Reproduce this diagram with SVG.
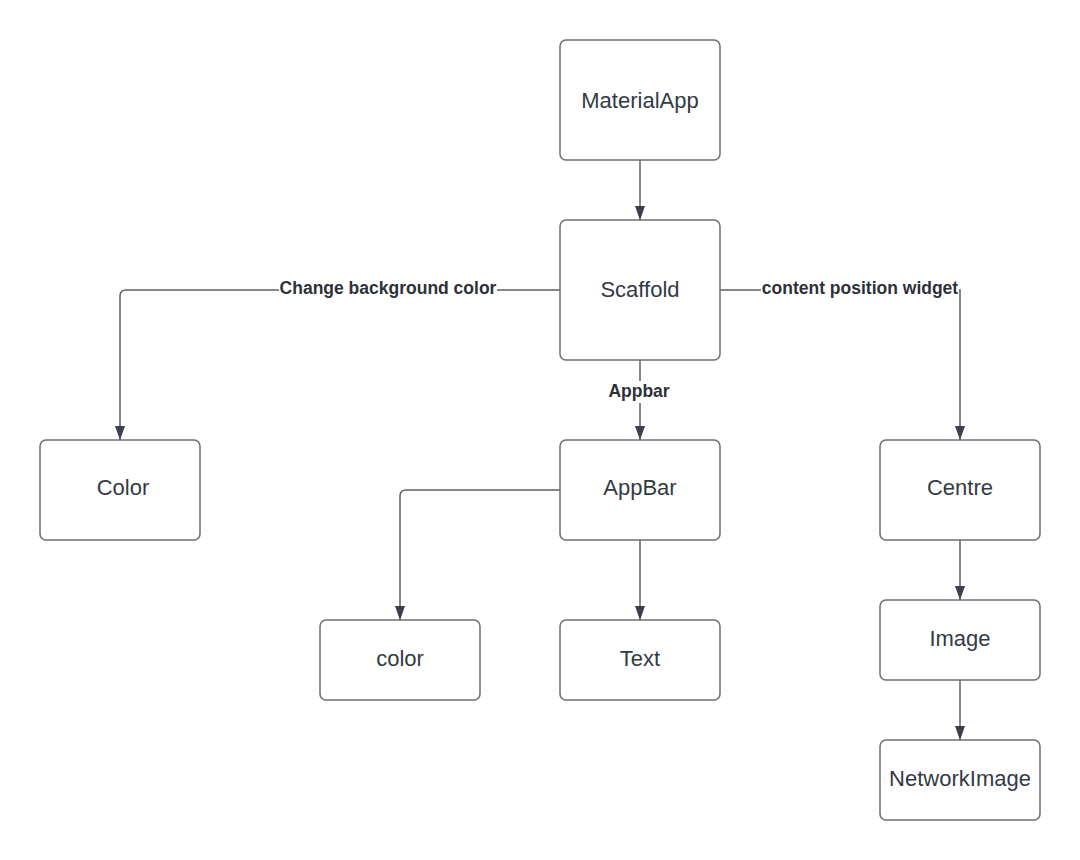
<svg xmlns="http://www.w3.org/2000/svg" width="1080" height="860" viewBox="0 0 1080 860">
  <defs>
    <marker id="head" viewBox="0 0 14 10" refX="14" refY="5" markerWidth="14" markerHeight="10" markerUnits="userSpaceOnUse" orient="auto">
      <path d="M0,0 L14,5 L0,10 Z" fill="#3a3f4a"/>
    </marker>
  </defs>
  <style>
    .box { fill: #ffffff; stroke: #6c6f75; stroke-width: 1.5; }
    .lbl { font-family: "Liberation Sans", Arial, sans-serif; font-size: 22px; fill: #333a45; text-anchor: middle; dominant-baseline: central; }
    .edge { fill: none; stroke: #5c6068; stroke-width: 1.5; marker-end: url(#head); }
    .elbl { font-family: "Liberation Sans", Arial, sans-serif; font-size: 17.5px; font-weight: bold; fill: #2e3138; text-anchor: middle; dominant-baseline: central; }
    .bg { fill: #ffffff; }
  </style>
  <rect width="1080" height="860" fill="#ffffff"/>

  <g id="connectors">
    <path class="edge" d="M640,160 V220"/>
    <path class="edge" d="M560,290 H126 Q120,290 120,296 V440"/>
    <path class="edge" d="M720,290 H960 V440"/>
    <path class="edge" d="M640,360 V440"/>
    <path class="edge" d="M560,490 H406 Q400,490 400,496 V620"/>
    <path class="edge" d="M640,540 V620"/>
    <path class="edge" d="M960,540 V600"/>
    <path class="edge" d="M960,680 V740"/>
    <rect class="bg" x="279" y="279" width="218" height="20"/>
    <text class="elbl" x="388" y="288">Change background color</text>
    <rect class="bg" x="761" y="279" width="198" height="20"/>
    <text class="elbl" x="860" y="288">content position widget</text>
    <rect class="bg" x="607" y="381" width="64" height="22"/>
    <text class="elbl" x="639" y="391">Appbar</text>
  </g>

  <g id="node-materialapp">
    <rect class="box" x="560" y="40" width="160" height="120" rx="6"/>
    <text class="lbl" x="640" y="100">MaterialApp</text>
  </g>
  <g id="node-scaffold">
    <rect class="box" x="560" y="220" width="160" height="140" rx="6"/>
    <text class="lbl" x="640" y="289">Scaffold</text>
  </g>
  <g id="node-color-bg">
    <rect class="box" x="40" y="440" width="160" height="100" rx="6"/>
    <text class="lbl" x="123" y="487">Color</text>
  </g>
  <g id="node-appbar">
    <rect class="box" x="560" y="440" width="160" height="100" rx="6"/>
    <text class="lbl" x="640" y="487">AppBar</text>
  </g>
  <g id="node-centre">
    <rect class="box" x="880" y="440" width="160" height="100" rx="6"/>
    <text class="lbl" x="960" y="487">Centre</text>
  </g>
  <g id="node-color">
    <rect class="box" x="320" y="620" width="160" height="80" rx="6"/>
    <text class="lbl" x="400" y="658">color</text>
  </g>
  <g id="node-text">
    <rect class="box" x="560" y="620" width="160" height="80" rx="6"/>
    <text class="lbl" x="640" y="658">Text</text>
  </g>
  <g id="node-image">
    <rect class="box" x="880" y="600" width="160" height="80" rx="6"/>
    <text class="lbl" x="960" y="638">Image</text>
  </g>
  <g id="node-networkimage">
    <rect class="box" x="880" y="740" width="160" height="80" rx="6"/>
    <text class="lbl" x="960" y="778">NetworkImage</text>
  </g>
</svg>
